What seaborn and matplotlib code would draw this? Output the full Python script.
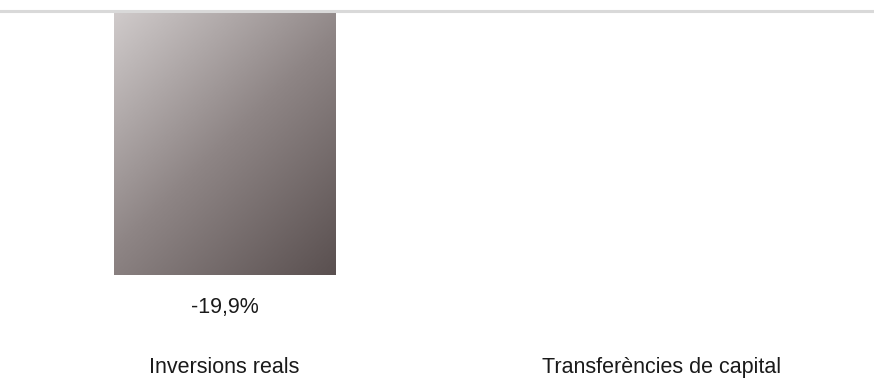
import matplotlib.pyplot as plt
import matplotlib.colors as mcolors
import numpy as np
import pandas as pd
import seaborn as sns

# Chart data
categories = ["Inversions reals", "Transferències de capital"]
values = [-19.9, 0.0]
value_labels = ["-19,9%", ""]

df = pd.DataFrame({"categoria": categories, "valor": values})

sns.set_style("white")
plt.rcParams['font.family'] = ['Liberation Sans', 'DejaVu Sans']

fig = plt.figure(figsize=(8.74, 3.79), dpi=100)
# axes spans from y=11px (zero line) to y=285px
ax = fig.add_axes([6 / 874, 1 - 285 / 379, 874 / 874, 274 / 379])

sns.barplot(data=df, x="categoria", y="valor", color="#8e8585", width=0.506,
            errorbar=None, ax=ax)

# Diagonal gradient fill on the bars
cmap = mcolors.LinearSegmentedColormap.from_list("grad", ["#d0cbcb", "#8e8585", "#5a5050"])
gy, gx = np.mgrid[0:1:200j, 0:1:200j]
grad = gx * 0.45 + gy * 0.55
for patch in ax.patches:
    x0, y0 = patch.get_x(), patch.get_y()
    w, h = patch.get_width(), patch.get_height()
    if h == 0:
        continue
    ybot, ytop = min(y0, y0 + h), max(y0, y0 + h)
    img = ax.imshow(grad, cmap=cmap, extent=[x0, x0 + w, ybot, ytop],
                    origin="upper", aspect="auto", zorder=2)
    img.set_clip_path(patch)
    patch.set_facecolor("none")
    patch.set_edgecolor("none")

ax.set_xlim(-0.5, 1.5)
ax.set_ylim(-20.65, 0)

# zero line
ax.axhline(0, xmin=-0.01, color="#d9d9d9", linewidth=2.2, zorder=3, clip_on=False)

# value labels
for i, (v, lab) in enumerate(zip(values, value_labels)):
    if lab:
        ax.annotate(lab, (i, v), xytext=(0, -16), textcoords="offset points",
                    ha="center", va="top", fontsize=15.5, color="#1a1a1a")

ax.set_xlabel("")
ax.set_ylabel("")
ax.set_yticks([])
ax.tick_params(axis="x", length=0, pad=51.5, labelsize=15.5, labelcolor="#1a1a1a")
sns.despine(ax=ax, left=True, bottom=True, top=True, right=True)

fig.savefig("out.png", dpi=100)
